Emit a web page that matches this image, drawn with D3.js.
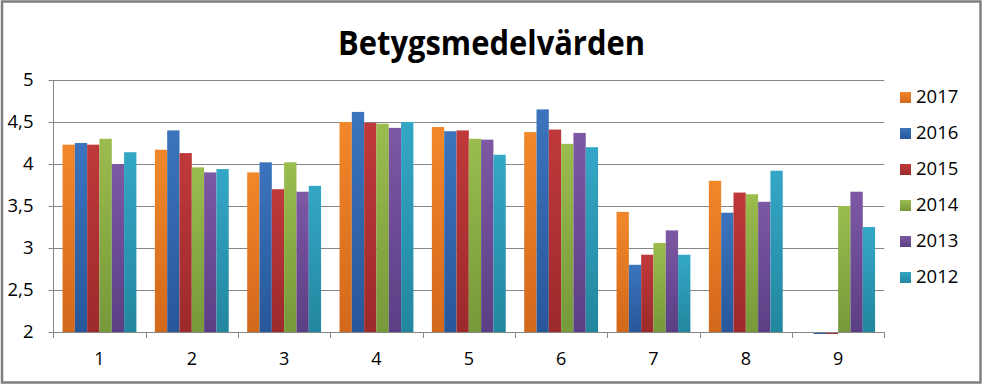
<!DOCTYPE html>
<html>
<head>
<meta charset="utf-8">
<script src="https://cdn.jsdelivr.net/npm/d3@7"></script>
<style>
  body { margin: 0; background: #fff; }
  text { font-family: "Open Sans", "Noto Sans", sans-serif; fill: #000; }
  .grid line { stroke: #868686; stroke-width: 1; }
  .axis path, .axis line { stroke: #868686; }
</style>
</head>
<body>
<svg id="chart-svg" width="983" height="385"></svg>
<script>
////////////////////////////////////////////////////////////////////////////////
// Data
var title = "Betygsmedelvärden";
var categories = ["1", "2", "3", "4", "5", "6", "7", "8", "9"];
var years = ["2017", "2016", "2015", "2014", "2013", "2012"];
var yTicks = [2, 2.5, 3, 3.5, 4, 4.5, 5];
// one array per year, one value per category (null = no bar)
var v2017 = [4.23, 4.17, 3.90, 4.50, 4.44, 4.38, 3.43, 3.80, null];
var v2016 = [4.25, 4.40, 4.02, 4.62, 4.39, 4.65, 2.80, 3.42, 1.98];
var v2015 = [4.23, 4.13, 3.70, 4.49, 4.40, 4.41, 2.92, 3.66, 1.98];
var v2014 = [4.30, 3.96, 4.02, 4.48, 4.30, 4.24, 3.06, 3.64, 3.50];
var v2013 = [4.00, 3.90, 3.67, 4.43, 4.29, 4.37, 3.21, 3.55, 3.67];
var v2012 = [4.14, 3.94, 3.74, 4.50, 4.11, 4.20, 2.92, 3.92, 3.25];
var seriesValues = [v2017, v2016, v2015, v2014, v2013, v2012];

////////////////////////////////////////////////////////////////////////////////
// Styles (top / bottom of the gradient per series)
var colTop = ["#f2872a", "#3b74bd", "#c0393a", "#9bbc4e", "#7d58a3", "#34a7c6"];
var colBot = ["#d2681b", "#28579a", "#9c2a2b", "#76993a", "#5b3f85", "#23869f"];

const svg = d3.select("#chart-svg");
var plot_left = 53.3, plot_right = 884.3, plot_top = 80, plot_bottom = 332;

// outer frame
svg.append("rect")
   .attr("x", 2).attr("y", 1.5).attr("width", 978.5).attr("height", 381)
   .attr("fill", "#fff").attr("stroke", "#7f7f7f").attr("stroke-width", 2.5);

// gradients
var defs = svg.append("defs");
years.forEach(function(yr, i) {
  var g = defs.append("linearGradient").attr("id", "grad" + i)
              .attr("x1", 0).attr("y1", 0).attr("x2", 0).attr("y2", 1);
  g.append("stop").attr("offset", "0%").attr("stop-color", colTop[i]);
  g.append("stop").attr("offset", "100%").attr("stop-color", colBot[i]);
});

// scales
var x0 = d3.scaleBand().domain(categories).range([plot_left, plot_right]).padding(0);
var x1 = d3.scaleBand().domain(years).range([0, x0.bandwidth()]).paddingInner(0).paddingOuter(0.75);
var y = d3.scaleLinear().domain([2, 5]).range([plot_bottom, plot_top]);

// title
svg.append("text")
   .attr("x", 491.5).attr("y", 55)
   .attr("text-anchor", "middle")
   .attr("font-size", 34).attr("font-weight", "bold")
   .attr("textLength", 307).attr("lengthAdjust", "spacingAndGlyphs")
   .text(title);

// gridlines
svg.append("g").attr("class", "grid")
   .selectAll("line")
   .data(yTicks.filter(function(d) { return d > 2; }))
   .enter()
   .append("line")
   .attr("x1", plot_left).attr("x2", plot_right)
   .attr("y1", function(d) { return Math.round(y(d)) + 0.5; })
   .attr("y2", function(d) { return Math.round(y(d)) + 0.5; });

// y axis
var yAxis = d3.axisLeft(y).tickValues(yTicks).tickSize(5).tickPadding(15)
              .tickFormat(function(d) { return String(d).replace(".", ","); });
var gY = svg.append("g").attr("class", "axis").attr("transform", "translate(" + (Math.round(plot_left) + 0.5) + ",0)").call(yAxis);
gY.select(".domain").remove();
gY.append("line").attr("x1", 0).attr("x2", 0).attr("y1", plot_top).attr("y2", plot_bottom).attr("stroke", "#868686");
gY.selectAll("text").attr("font-size", 18.5).attr("font-family", "Open Sans").attr("fill", "#000");

// bars
seriesValues.forEach(function(vals, i) {
  svg.append("g")
     .selectAll("rect")
     .data(vals.map(function(v, j) { return { cat: categories[j], v: v }; })
               .filter(function(d) { return d.v !== null; }))
     .enter()
     .append("rect")
     .attr("x", function(d) { return x0(d.cat) + x1(years[i]); })
     .attr("width", x1.bandwidth())
     .attr("y", function(d) { return Math.min(y(d.v), y(2)); })
     .attr("height", function(d) { return Math.max(Math.abs(y(2) - y(d.v)), 2); })
     .attr("fill", "url(#grad" + i + ")");
});

// x axis
var gX = svg.append("g").attr("class", "axis");
gX.append("line")
  .attr("x1", plot_left).attr("x2", plot_right)
  .attr("y1", plot_bottom + 0.5).attr("y2", plot_bottom + 0.5);
var bounds = categories.map(function(c) { return x0(c); }).concat([plot_right]);
gX.selectAll(".tick")
  .data(bounds)
  .enter()
  .append("line")
  .attr("x1", function(d) { return Math.round(d) + 0.5; })
  .attr("x2", function(d) { return Math.round(d) + 0.5; })
  .attr("y1", plot_bottom).attr("y2", plot_bottom + 6);
gX.selectAll(".lbl")
  .data(categories)
  .enter()
  .append("text")
  .attr("x", function(d) { return x0(d) + x0.bandwidth() / 2; })
  .attr("y", 365)
  .attr("text-anchor", "middle")
  .attr("font-size", 18)
  .text(function(d) { return d; });

// legend
var legend = svg.append("g").attr("transform", "translate(900,0)");
var items = legend.selectAll(".item")
  .data(years)
  .enter()
  .append("g")
  .attr("transform", function(d, i) { return "translate(0," + (97 + i * 36) + ")"; });
items.append("rect")
     .attr("x", 0).attr("y", -5).attr("width", 11).attr("height", 11)
     .attr("fill", function(d, i) { return "url(#grad" + i + ")"; });
items.append("text")
     .attr("x", 16).attr("y", 0).attr("dy", "0.35em")
     .attr("font-size", 18.5)
     .text(function(d) { return d; });
</script>
</body>
</html>
